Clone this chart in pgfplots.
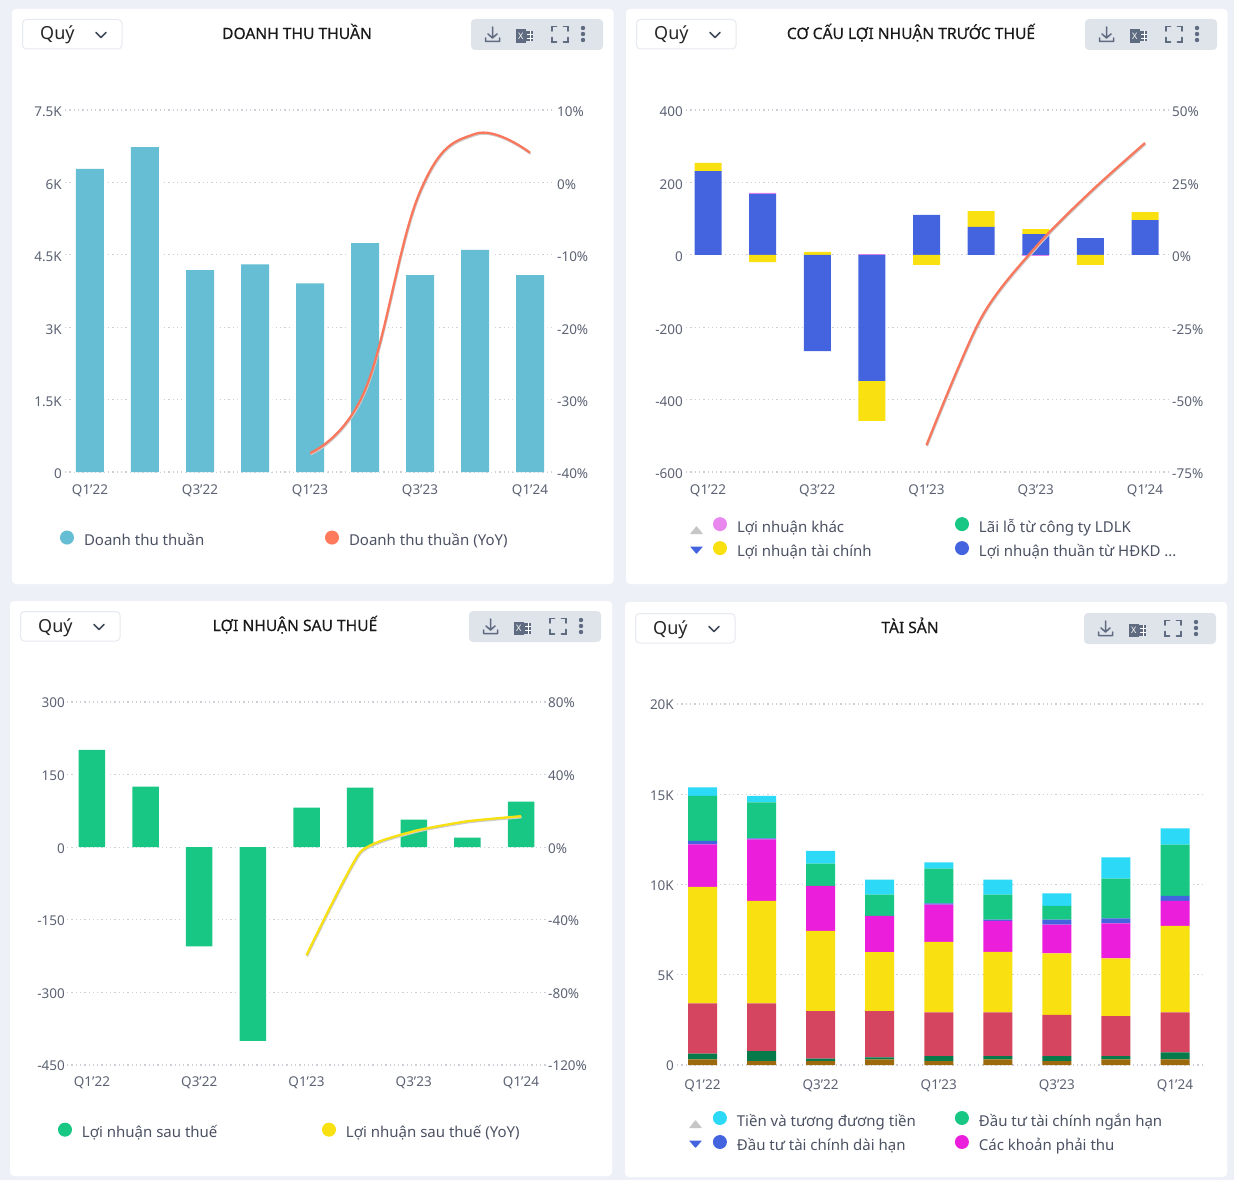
\documentclass[border=0pt]{standalone}
\usepackage{fontspec}
\setmainfont{Noto Sans}
\newfontfamily\titlefam[FakeBold=0.45]{Noto Sans}
\usepackage{pgfplots}
\usepackage{pgfplotstable}
\pgfplotsset{compat=1.18}

\definecolor{pagebg}{HTML}{EDF1F7}
\definecolor{tickc}{HTML}{5C6373}
\definecolor{legc}{HTML}{4B5263}
\definecolor{gridc}{HTML}{CDD0D6}
\definecolor{iconc}{HTML}{5E6B80}
\definecolor{toolbg}{HTML}{DFE3EA}
\definecolor{boxc}{HTML}{E6E9EF}
\definecolor{teal1}{HTML}{65BED4}
\definecolor{coral}{HTML}{F9775C}
\definecolor{coral2}{HTML}{FF7A5C}
\definecolor{royal}{HTML}{4464DF}
\definecolor{sun}{HTML}{F8E011}
\definecolor{mint}{HTML}{18C784}
\definecolor{orchid}{HTML}{E887EE}
\definecolor{magen}{HTML}{EB1FDB}
\definecolor{sky}{HTML}{2CD9F7}
\definecolor{rose}{HTML}{D6455F}
\definecolor{forest}{HTML}{067A4B}
\definecolor{umber}{HTML}{9C6A0C}

% panel 1
\pgfplotstableread{
i val
0 6280
1 6730
2 4180
3 4300
4 3910
5 4740
6 4080
7 4600
8 4080
}\revtable
\pgfplotstableread{
i yoy
4 -37.4
5 -28.7
6 -1.3
7 6.7
8 4.1
}\revyoy

% panel 2: positive and negative stacks apart
\pgfplotstableread{
i bluep sunp pinkp bluen sunn pinkn
0 231 23 0 0 0 0
1 168 0 3 0 -20 0
2 0 8 0 -266 0 0
3 0 0 2 -348 -111 0
4 110 0 0 0 -28 0
5 77 44 0 0 0 0
6 57 14 0 0 0 -4
7 46 0 0 0 -28 0
8 96 22 0 0 0 0
}\pbttable
\pgfplotstableread{
i yoy
4 -65.7
5 -21.8
6 2.7
7 21.7
8 38.6
}\pbtyoy

% panel 3
\pgfplotstableread{
i val
0 201
1 125
2 -205
3 -400
4 82
5 123
6 57
7 20
8 94
}\pattable
\pgfplotstableread{
i yoy
4 -59.5
5 -2.8
6 8.8
7 14.3
8 17.1
}\patyoy

% panel 4
\pgfplotstableread{
i brown dgreen red yellow magenta blue green cyan
0 314 314 2789 6446 2364 185 2493 480
1 222 554 2641 5670 3417 55 1995 351
2 222 129 2641 4433 2493 0 1237 702
3 314 111 2567 3269 1995 0 1182 831
4 222 277 2420 3897 2069 74 1921 351
5 314 185 2420 3343 1718 74 1385 831
6 222 277 2272 3417 1588 277 757 702
7 314 185 2216 3195 1939 277 2198 1182
8 314 388 2216 4784 1385 277 2844 905
}\assettable

\newcommand{\entry}[2]{\addlegendentry{\makebox[#1pt][l]{#2}}}

\pgfplotsset{
  card base/.style={
    scale only axis,
    anchor=south west,
    axis line style={draw=none},
    major tick length=0pt,
    scaled y ticks=false,
    tick label style={font=\fontsize{13.5}{16}\selectfont,text=tickc},
    x tick label style={inner sep=0pt,yshift=-11pt},
    ymajorgrids,
    grid style={gridc,line width=1.1pt,dash pattern=on 1.3pt off 3pt},
    clip=false,
  },
  left axis/.style={
    card base,
    axis x line*=bottom,
    axis y line*=left,
    xtick={0,2,4,6,8},
    xticklabels={Q1'22,Q3'22,Q1'23,Q3'23,Q1'24},
    y tick label style={inner sep=0pt,anchor=east,xshift=-3pt,yshift=-2pt},
  },
  right axis/.style={
    card base,
    ymajorgrids=false,
    axis y line*=right,
    axis x line=none,
    y tick label style={inner sep=0pt,anchor=west,xshift=2pt,yshift=-2pt},
  },
  bars/.style={ybar,bar shift=0pt,draw=none,fill=#1,forget plot},
  stack/.style={draw=none,fill=#1,forget plot},
  trend/.style={smooth,tension=0.5,no markers,line width=2.3pt,color=#1,forget plot},
  trend shadow/.style={smooth,tension=0.5,no markers,line width=2pt,color=gray!40,yshift=-1.2pt,xshift=0.6pt,forget plot},
  dot legend/.style 2 args={
    legend image code/.code={\fill[##1,draw=none] (0pt,4.5pt) circle (7pt);},
    legend columns=2,
    legend cell align=left,
    legend style={
      at={(axis description cs:#1,#2)},anchor=west,
      draw=none,fill=none,inner sep=0pt,outer sep=0pt,
      font=\fontsize{15}{18}\selectfont,text=legc,
      nodes={inner sep=0pt,text height=11pt,text depth=4pt},
      /tikz/every odd column/.append style={column sep=10pt},
      /tikz/row sep=5pt,
    },
  },
}

\newcommand{\cardhead}[3]{%
\begin{scope}[shift={(#1pt,-#2pt)}]
  \draw[boxc,line width=1pt,fill=white,rounded corners=4pt] (22.5,19.5) rectangle (122,49);
  \node[anchor=base west,inner sep=0pt,text=black!85] at (40,40) {\fontsize{18}{20}\selectfont Quý};
  \draw[iconc!70!black,line width=1.5pt,line cap=round,line join=round] (96,32.5)--(101,37.5)--(106,32.5);
  \node[anchor=base,inner sep=0pt,text=black!90] at (297,39) {\fontsize{15.6}{18}\titlefam #3};
  \fill[toolbg,rounded corners=4pt] (471,19) rectangle (603,50);
  % download
  \draw[iconc,line width=1.5pt,line cap=round,line join=round] (492.5,27)--(492.5,38) (488,34)--(492.5,38)--(497,34) (485.5,38)--(485.5,41.5)--(499.5,41.5)--(499.5,38);
  % excel
  \fill[iconc] (516,29.5) rectangle (525.5,43);
  \node[inner sep=0pt,text=white] at (520.7,36.3) {\fontsize{9}{9}\selectfont X};
  \fill[iconc] (525.5,31) rectangle (533,41.5);
  \draw[white,line width=0.5pt] (527,34.5)--(533,34.5) (527,38)--(533,38) (530,31)--(530,41.5);
  % fullscreen
  \draw[iconc,line width=1.7pt,line cap=round] (552,31)--(552,26.5)--(556.5,26.5) (563.5,26.5)--(568,26.5)--(568,31) (568,37.5)--(568,42)--(563.5,42) (556.5,42)--(552,42)--(552,37.5);
  % kebab
  \fill[iconc] (583,28) circle (2.2) (583,34) circle (2.2) (583,40) circle (2.2);
\end{scope}}

\begin{document}
\begin{tikzpicture}
\begin{scope}[x=1pt,y=-1pt]
  \fill[pagebg] (0,0) rectangle (1234,1180);
  \fill[white,rounded corners=4pt] (12,9) rectangle (613.5,584);
  \fill[white,rounded corners=4pt] (626,9) rectangle (1227.5,584);
  \fill[white,rounded corners=4pt] (10,601) rectangle (612,1176);
  \fill[white,rounded corners=4pt] (625,602) rectangle (1227,1177);
  \cardhead{0}{0}{DOANH THU THUẦN}
  \cardhead{614}{0}{CƠ CẤU LỢI NHUẬN TRƯỚC THUẾ}
  \cardhead{-2}{592}{LỢI NHUẬN SAU THUẾ}
  \cardhead{613}{594}{TÀI SẢN}
  % legend paging arrows
  \fill[gray!45,rounded corners=0.5pt] (690,534)--(696.5,526)--(703,534)--cycle;
  \fill[royal,rounded corners=0.5pt] (690,546.5)--(703,546.5)--(696.5,554)--cycle;
  \fill[gray!45,rounded corners=0.5pt] (689,1128)--(695.5,1120)--(702,1128)--cycle;
  \fill[royal,rounded corners=0.5pt] (689,1140.5)--(702,1140.5)--(695.5,1148)--cycle;
\end{scope}

%% DOANH THU THUAN
\begin{axis}[left axis,at={(65pt,-472pt)},width=490pt,height=362pt,
  x tick label style={yshift=-2pt},
  xmin=-0.4545,xmax=8.4545,ymin=0,ymax=7500,
  ytick={0,1500,3000,4500,6000,7500},
  yticklabels={0,1.5K,3K,4.5K,6K,7.5K},
  dot legend={-0.0102}{-0.188}]
% white halo keeps the dotted grid off the bar sides
\addplot[bars=white,bar width=35pt] table[x=i,y=val] {\revtable};
\addplot[bars=teal1,bar width=28pt] table[x=i,y=val] {\revtable};
\addlegendimage{fill=teal1}\entry{241}{Doanh thu thuần}
\addlegendimage{fill=coral2}\entry{170}{Doanh thu thuần (YoY)}
\end{axis}
\begin{axis}[right axis,at={(65pt,-472pt)},width=490pt,height=362pt,
  xmin=-0.4545,xmax=8.4545,ymin=-40,ymax=10,
  ytick={-40,-30,-20,-10,0,10},
  yticklabels={-40\%,-30\%,-20\%,-10\%,0\%,10\%}]
\addplot[trend shadow,tension=0.68] table[x=i,y=yoy] {\revyoy};
\addplot[trend=coral,tension=0.68] table[x=i,y=yoy] {\revyoy};
\end{axis}

%% CO CAU LOI NHUAN TRUOC THUE
\begin{axis}[left axis,at={(686pt,-472pt)},width=482pt,height=362pt,
  x tick label style={yshift=-2pt},
  xmin=-0.4027,xmax=8.421,ymin=-600,ymax=400,
  ytick={-600,-400,-200,0,200,400},
  yticklabels={-600,-400,-200,0,200,400},
  ybar stacked,bar width=27pt,
  dot legend={0.056}{-0.184}]
\addplot[stack=royal] table[x=i,y=bluep] {\pbttable};
\addplot[stack=sun] table[x=i,y=sunp] {\pbttable};
\addplot[stack=orchid] table[x=i,y=pinkp] {\pbttable};
\addlegendimage{fill=orchid}\entry{218}{Lợi nhuận khác}
\addlegendimage{fill=mint}\entry{200}{Lãi lỗ từ công ty LDLK}
\addlegendimage{fill=sun}\entry{218}{Lợi nhuận tài chính}
\addlegendimage{fill=royal}\entry{200}{Lợi nhuận thuần từ HĐKD ...}
\end{axis}
% negative stack on its own axis, same frame
\begin{axis}[card base,hide axis,at={(686pt,-472pt)},width=482pt,height=362pt,
  xmin=-0.4027,xmax=8.421,ymin=-600,ymax=400,
  ybar stacked,bar width=27pt]
\addplot[stack=royal] table[x=i,y=bluen] {\pbttable};
\addplot[stack=sun] table[x=i,y=sunn] {\pbttable};
\addplot[stack=orchid] table[x=i,y=pinkn] {\pbttable};
\end{axis}
\begin{axis}[right axis,at={(686pt,-472pt)},width=482pt,height=362pt,
  y tick label style={xshift=2pt},
  xmin=-0.4027,xmax=8.421,ymin=-75,ymax=50,
  ytick={-75,-50,-25,0,25,50},
  yticklabels={-75\%,-50\%,-25\%,0\%,25\%,50\%}]
\addplot[trend shadow] table[x=i,y=yoy] {\pbtyoy};
\addplot[trend=coral] table[x=i,y=yoy] {\pbtyoy};
\end{axis}

%% LOI NHUAN SAU THUE
\begin{axis}[left axis,at={(67pt,-1065pt)},width=479pt,height=363pt,
  y tick label style={yshift=1pt,xshift=1pt},
  xmin=-0.466,xmax=8.466,ymin=-450,ymax=300,
  ytick={-450,-300,-150,0,150,300},
  yticklabels={-450,-300,-150,0,150,300},
  dot legend={-0.0188}{-0.185}]
\addplot[bars=white,bar width=33pt] table[x=i,y=val] {\pattable};
\addplot[bars=mint,bar width=26.5pt] table[x=i,y=val] {\pattable};
\addlegendimage{fill=mint}\entry{240}{Lợi nhuận sau thuế}
\addlegendimage{fill=sun}\entry{170}{Lợi nhuận sau thuế (YoY)}
\end{axis}
\begin{axis}[right axis,at={(67pt,-1065pt)},width=479pt,height=363pt,
  y tick label style={yshift=1pt},
  xmin=-0.466,xmax=8.466,ymin=-120,ymax=80,
  ytick={-120,-80,-40,0,40,80},
  yticklabels={-120\%,-80\%,-40\%,0\%,40\%,80\%}]
\addplot[trend shadow,tension=0.3] table[x=i,y=yoy] {\patyoy};
\addplot[trend=sun,tension=0.3] table[x=i,y=yoy] {\patyoy};
\end{axis}

%% TAI SAN
\begin{axis}[left axis,at={(677pt,-1065pt)},width=528pt,height=361pt,
  x tick label style={yshift=-3pt},
  y tick label style={yshift=1pt},
  xmin=-0.4318,xmax=8.508,ymin=0,ymax=20000,
  ytick={0,5000,10000,15000,20000},
  yticklabels={0,5K,10K,15K,20K},
  ybar stacked,bar width=29pt,
  dot legend={0.068}{-0.187}]
\addplot[stack=umber] table[x=i,y=brown] {\assettable};
\addplot[stack=forest] table[x=i,y=dgreen] {\assettable};
\addplot[stack=rose] table[x=i,y=red] {\assettable};
\addplot[stack=sun] table[x=i,y=yellow] {\assettable};
\addplot[stack=magen] table[x=i,y=magenta] {\assettable};
\addplot[stack=royal] table[x=i,y=blue] {\assettable};
\addplot[stack=mint] table[x=i,y=green] {\assettable};
\addplot[stack=sky] table[x=i,y=cyan] {\assettable};
\addlegendimage{fill=sky}\entry{218}{Tiền và tương đương tiền}
\addlegendimage{fill=mint}\entry{200}{Đầu tư tài chính ngắn hạn}
\addlegendimage{fill=royal}\entry{218}{Đầu tư tài chính dài hạn}
\addlegendimage{fill=magen}\entry{200}{Các khoản phải thu}
\end{axis}
\end{tikzpicture}
\end{document}
